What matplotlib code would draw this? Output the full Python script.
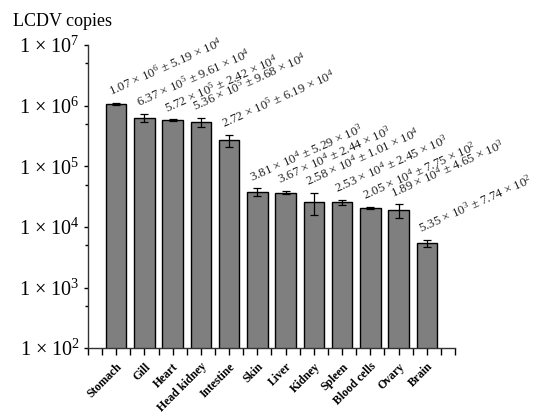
import numpy as np
import matplotlib
matplotlib.use('Agg')
import matplotlib.pyplot as plt
from matplotlib.ticker import FixedLocator, FuncFormatter, NullFormatter

plt.rcParams['font.family'] = 'Liberation Serif'
plt.rcParams['mathtext.fontset'] = 'custom'
plt.rcParams['mathtext.rm'] = 'Liberation Serif'
plt.rcParams['mathtext.it'] = 'Liberation Serif:italic'
plt.rcParams['mathtext.bf'] = 'Liberation Serif:bold'

tissues = ['Stomach', 'Gill', 'Heart', 'Head kidney', 'Intestine', 'Skin', 'Liver',
           'Kidney', 'Spleen', 'Blood cells', 'Ovary', 'Brain']
copies = [1.07e6, 6.37e5, 5.72e5, 5.36e5, 2.72e5, 3.81e4, 3.67e4,
          2.58e4, 2.53e4, 2.05e4, 1.89e4, 5.35e3]
errors = [5.19e4, 9.61e4, 2.42e4, 9.68e4, 6.19e4, 5.29e3, 2.44e3,
          1.01e4, 2.45e3, 7.75e2, 4.65e3, 7.74e2]


def sci(v):
    exp = int(np.floor(np.log10(v)))
    return '%.2f × 10$^{%d}$' % (v / 10**exp, exp)


fig = plt.figure(figsize=(5.36, 4.13), dpi=100)
ax = fig.add_axes([0.164, 0.157, 0.685, 0.734])

x = np.arange(len(tissues))
ax.bar(x, copies, width=0.72, color='#7f7f7f', edgecolor='black', linewidth=1.0,
       yerr=errors, error_kw=dict(ecolor='black', elinewidth=0.9, capsize=3, capthick=0.9))

ax.set_yscale('log')
ax.set_ylim(1e2, 1e7)
ax.set_xlim(-1, 12)

# annotations above bars
for xi, v, e in zip(x, copies, errors):
    ax.annotate('%s ± %s' % (sci(v), sci(e)),
                xy=(xi, v + e), xytext=(-4, 5), textcoords='offset points',
                rotation=24, rotation_mode='anchor', ha='left', va='baseline',
                fontsize=9.3, color='#222222')

ax.yaxis.set_major_locator(FixedLocator([10.0**k for k in range(2, 8)]))
ax.yaxis.set_major_formatter(FuncFormatter(lambda v, p: '1 × 10$^{%d}$' % round(np.log10(v))))
ax.yaxis.set_minor_locator(FixedLocator([5 * 10.0**k for k in range(2, 7)]))
ax.yaxis.set_minor_formatter(NullFormatter())
ax.tick_params(axis='y', which='major', direction='out', length=3, width=1, labelsize=14.5, pad=3)
ax.tick_params(axis='y', which='minor', direction='out', length=2, width=1)

ax.set_xticks(x)
ax.set_xticklabels(tissues, rotation=45, ha='right', rotation_mode='anchor',
                   fontweight='bold', fontsize=8.5)
ax.xaxis.set_minor_locator(FixedLocator([t for t in np.arange(-1, 12.01, 0.5) if t not in x]))
ax.tick_params(axis='x', which='both', direction='out', length=5, width=1, pad=4)

for s in ['top', 'right']:
    ax.spines[s].set_visible(False)
for s in ['left', 'bottom']:
    ax.spines[s].set_linewidth(1.0)
    ax.spines[s].set_color('#333333')

fig.text(0.024, 0.947, 'LCDV copies', fontsize=13, ha='left', va='center')

fig.savefig('out.png', dpi=100)
